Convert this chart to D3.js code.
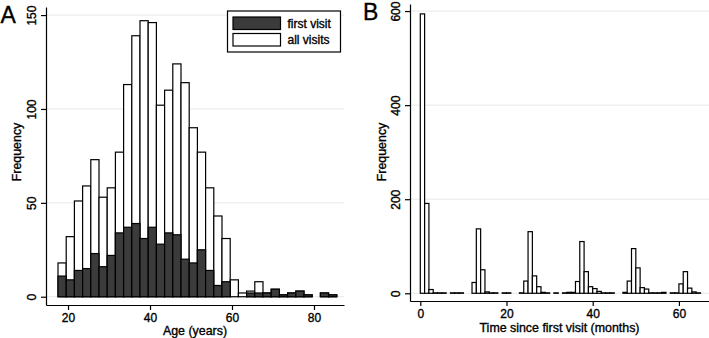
<!DOCTYPE html>
<html>
<head>
<meta charset="utf-8">
<script src="https://cdn.jsdelivr.net/npm/d3@7"></script>
<style>
  body { margin: 0; background: #fff; }
  svg text { font-family: "Liberation Sans", Arial, sans-serif; fill: #000; stroke: #000; stroke-width: 0.35px; }
</style>
</head>
<body>
<svg id="chart" width="709" height="338"></svg>
<script>
// ---- panel A : age histogram (2-year bins) ----
const ageBinStart = 17.56;
const ageBinWidth = 2;
const allVisits  = [18, 32, 51, 59, 73, 53, 58, 77, 113, 139, 147, 146, 102, 110, 124, 114, 90, 77, 58, 43, 31, 9, 2, 3, 8, 2, 4, 1, 2, 3, 1, 0, 2, 1];
const firstVisit = [11, 9, 14, 15, 23, 16, 22, 34, 37, 39, 31, 37, 28, 34, 33, 20, 18, 25, 14, 6, 8, 0, 0, 2, 2, 2, 4, 1, 2, 3, 1, 0, 2, 1];
const ageTicks = [20, 40, 60, 80];
const ageFreqTicks = [0, 50, 100, 150];
const legendLabels = ['first visit', 'all visits'];

// ---- panel B : months since first visit (1-month bins) ----
const monthBinWidth = 1;
const monthCounts = [594, 191, 8, 1, 1, 1, 0, 1, 1, 1, 0, 0, 23, 137, 50, 3, 1, 1, 0, 1,
                     1, 0, 0, 1, 26, 131, 37, 14, 2, 1, 0, 1, 0, 1, 2, 2, 25, 110, 46, 14,
                     10, 4, 1, 1, 1, 0, 0, 2, 26, 95, 54, 12, 9, 1, 1, 1, 2, 0, 1, 1,
                     20, 46, 11, 3, 1];
const monthTicks = [0, 20, 40, 60];
const monthFreqTicks = [0, 200, 400, 600];

const dark = '#3b3b3b';
const gridColor = '#e8e8e8';
const svg = d3.select('#chart');

const xA = d3.scaleLinear().domain([14.63, 87.32]).range([46, 344]);
const yA = d3.scaleLinear().domain([-4.4, 154.3]).range([305, 7]);
const xB = d3.scaleLinear().domain([-2.39, 66.98]).range([410, 709]);
const yB = d3.scaleLinear().domain([-16.4, 615]).range([301, 4]);

function grid(x, y, ticks) {
    svg.append('g').selectAll('line')
        .data(ticks)
        .enter().append('line')
        .attr('x1', x.range()[0]).attr('x2', x.range()[1])
        .attr('y1', d => y(d)).attr('y2', d => y(d))
        .attr('stroke', gridColor).attr('stroke-width', 1);
}

function bars(x, y, start, width, values, fill) {
    svg.append('g').selectAll('rect')
        .data(values.map((v, i) => ({lo: start + i * width, v: v})).filter(d => d.v > 0))
        .enter().append('rect')
        .attr('x', d => x(d.lo))
        .attr('width', d => x(d.lo + width) - x(d.lo))
        .attr('y', d => y(d.v))
        .attr('height', d => y(0) - y(d.v))
        .attr('fill', fill)
        .attr('stroke', '#000')
        .attr('stroke-width', 1.2);
}

function axes(x, y, xTicks, yTicks, xTitle, xTitleY, yTitleX, xPad) {
    const gx = svg.append('g')
        .attr('transform', `translate(0,${y.range()[0]})`)
        .call(d3.axisBottom(x).tickValues(xTicks).tickSize(5).tickSizeOuter(0).tickPadding(xPad));
    const gy = svg.append('g')
        .attr('transform', `translate(${x.range()[0]},0)`)
        .call(d3.axisLeft(y).tickValues(yTicks).tickSize(5).tickSizeOuter(0));
    [gx, gy].forEach(g => {
        g.selectAll('path, line').attr('stroke', '#000').attr('stroke-width', 1.2);
        g.selectAll('text').style('font-size', '12px').attr('fill', '#000')
            .style('font-family', '"Liberation Sans", Arial, sans-serif');
    });
    gy.selectAll('.tick text')
        .attr('x', 0).attr('y', -10).attr('dy', null)
        .attr('transform', 'rotate(-90)')
        .attr('text-anchor', 'middle');

    const xr = x.range();
    svg.append('text')
        .attr('x', (xr[0] + xr[1]) / 2).attr('y', xTitleY)
        .attr('text-anchor', 'middle')
        .style('font-size', '12.4px')
        .text(xTitle);
    svg.append('text')
        .attr('transform', `translate(${yTitleX},152) rotate(-90)`)
        .attr('text-anchor', 'middle')
        .style('font-size', '12.4px')
        .text('Frequency');
}

// panel A
grid(xA, yA, ageFreqTicks);
bars(xA, yA, ageBinStart, ageBinWidth, allVisits, '#fff');
bars(xA, yA, ageBinStart, ageBinWidth, firstVisit, dark);
axes(xA, yA, ageTicks, ageFreqTicks, 'Age (years)', 334.5, 20.5, 3);

// legend
const legend = svg.append('g').attr('transform', 'translate(227.5,11)');
legend.append('rect').attr('width', 113).attr('height', 41)
    .attr('fill', '#fff').attr('stroke', '#000').attr('stroke-width', 1.2);
legend.selectAll('.sw')
    .data(legendLabels)
    .enter().append('rect')
    .attr('x', 5.5).attr('y', (d, i) => 6 + i * 16.5)
    .attr('width', 47.5).attr('height', 12.5)
    .attr('fill', (d, i) => i === 0 ? dark : '#fff')
    .attr('stroke', '#000').attr('stroke-width', 1.2);
legend.selectAll('.lb')
    .data(legendLabels)
    .enter().append('text')
    .attr('x', 60).attr('y', (d, i) => 16.5 + i * 16.5)
    .style('font-size', '12px')
    .text(d => d);

// panel B
grid(xB, yB, monthFreqTicks);
bars(xB, yB, 0, monthBinWidth, monthCounts, '#fff');
axes(xB, yB, monthTicks, monthFreqTicks, 'Time since first visit (months)', 331.8, 385.5, 3);

// panel letters
svg.append('text').attr('x', 0.5).attr('y', 23.2).style('font-size', '23px').text('A');
svg.append('text').attr('x', 363).attr('y', 19.5).style('font-size', '23px').text('B');
</script>
</body>
</html>
